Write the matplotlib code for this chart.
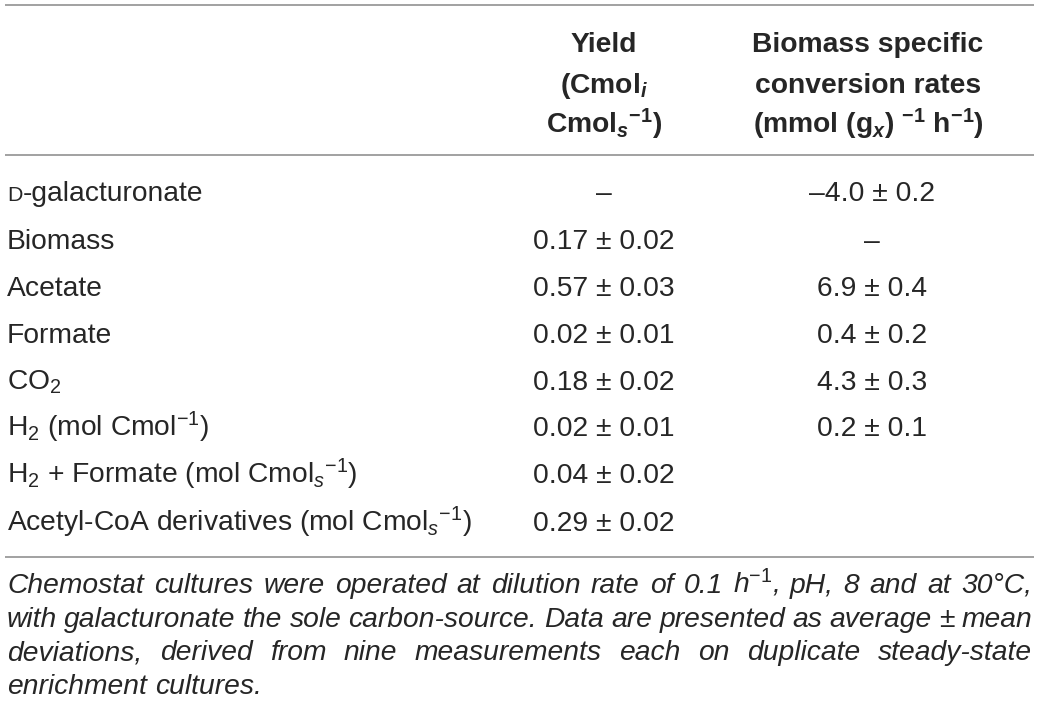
import matplotlib
matplotlib.use("Agg")
import matplotlib.pyplot as plt

plt.rcParams['font.family'] = ['Liberation Sans', 'DejaVu Sans']
plt.rcParams['mathtext.fontset'] = 'custom'
plt.rcParams['mathtext.rm'] = 'Liberation Sans'
plt.rcParams['mathtext.it'] = 'Liberation Sans:italic'
plt.rcParams['mathtext.bf'] = 'Liberation Sans:bold'
plt.rcParams['mathtext.bfit'] = 'Liberation Sans:italic:bold'

# table content
row_labels = ["D-galacturonate", "Biomass", "Acetate", "Formate", "CO$_2$",
              "H$_2$ (mol Cmol$^{-1}$)",
              "H$_2$ + Formate (mol Cmol$_s$$^{-1}$)",
              "Acetyl-CoA derivatives (mol Cmol$_s$$^{-1}$)"]
yields = ["–", "0.17 ± 0.02", "0.57 ± 0.03", "0.02 ± 0.01", "0.18 ± 0.02",
          "0.02 ± 0.01", "0.04 ± 0.02", "0.29 ± 0.02"]
rates = ["–4.0 ± 0.2", "–", "6.9 ± 0.4", "0.4 ± 0.2", "4.3 ± 0.3",
         "0.2 ± 0.1", "", ""]
yield_header = ["Yield", r"(Cmol$_{\mathbfit{i}}$",
                r"Cmol$_{\mathbfit{s}}$$^{\mathbf{-1}}$)"]
rate_header = ["Biomass specific", "conversion rates",
               r"(mmol (g$_{\mathbfit{x}}$) $^{\mathbf{-1}}$ h$^{\mathbf{-1}}$)"]
caption = [r"Chemostat cultures were operated at dilution rate of 0.1 h$^{\mathit{-1}}$, pH, 8 and at 30°C,",
           "with galacturonate the sole carbon-source. Data are presented as average ± mean",
           "deviations, derived from nine measurements each on duplicate steady-state",
           "enrichment cultures."]

ink = '#262626'
rule = '#9a9a9a'
body_size = 20.3
cap_size = 20.3

fig = plt.figure(figsize=(10.4, 7.19), dpi=100)
ax = fig.add_axes([0, 0, 1, 1])
ax.set_xlim(0, 1040)
ax.set_ylim(719, 0)
ax.axis('off')

# rules
for y in [5, 155, 557]:
    ax.plot([5, 1034], [y, y], color=rule, lw=1.3, solid_capstyle='butt')

# header
col_yield = 604
col_rate = 868
head_base = [52, 93, 133]
for i, (a, b) in enumerate(zip(yield_header, rate_header)):
    ax.text(col_yield, head_base[i], a, fontsize=body_size, fontweight='bold',
            ha='center', va='baseline', color=ink)
    ax.text(col_rate, head_base[i], b, fontsize=body_size, fontweight='bold',
            ha='center', va='baseline', color=ink)

fig.canvas.draw()
renderer = fig.canvas.get_renderer()

row_base = [201, 249, 296, 343, 390, 436, 483, 531]
for i, lab in enumerate(row_labels):
    y = row_base[i]
    if lab.startswith("D-"):
        d = ax.text(7, y, "D", fontsize=body_size * 0.76, ha='left',
                    va='baseline', color=ink)
        w = d.get_window_extent(renderer).width
        ax.text(7 + w, y, lab[1:], fontsize=body_size, ha='left',
                va='baseline', color=ink)
    else:
        ax.text(7, y, lab, fontsize=body_size, ha='left', va='baseline', color=ink)
    ax.text(col_yield, y, yields[i], fontsize=body_size, ha='center',
            va='baseline', color=ink)
    ax.text(col_rate + 4, y, rates[i], fontsize=body_size, ha='center',
            va='baseline', color=ink)

# justified caption
cap_base = [593, 627, 660, 694]
x0, x1 = 7, 1032
for i, line in enumerate(caption):
    words = line.split(" ")
    texts = [ax.text(0, cap_base[i], w, fontsize=cap_size, style='italic',
                     ha='left', va='baseline', color=ink) for w in words]
    widths = [t.get_window_extent(renderer).width for t in texts]
    if i < len(caption) - 1:
        gap = (x1 - x0 - sum(widths)) / (len(words) - 1)
    else:
        gap = cap_size * 100 / 72 * 0.28
    x = x0
    for t, w in zip(texts, widths):
        t.set_x(x)
        x += w + gap

fig.savefig("out.png", dpi=100)
